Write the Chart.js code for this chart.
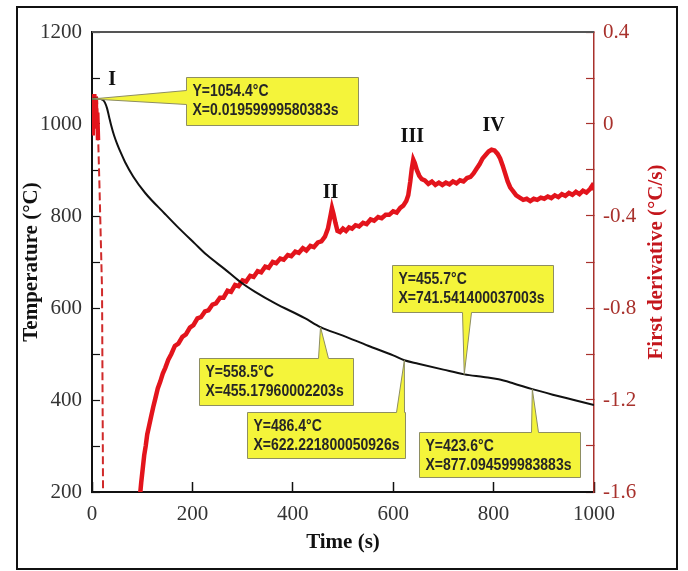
<!DOCTYPE html>
<html>
<head>
<meta charset="utf-8">
<script src="https://cdn.jsdelivr.net/npm/chart.js@4.4.0/dist/chart.umd.min.js"></script>
<style>
  html, body { margin: 0; padding: 0; background: #fff; }
  #wrap { position: relative; width: 688px; height: 571px; }
</style>
</head>
<body>
<div id="wrap"><canvas id="cooling"></canvas></div>
<script>
'use strict'

// cooling curve, temperature (degC) vs time (s)
const tempTime  = [0, 10, 18, 22, 26, 30, 34, 38, 44, 50, 58, 66, 82, 106, 145, 169, 205, 229, 265, 295, 325, 365, 424, 455.1796, 500, 550, 600, 622.2218, 650, 700, 741.5414, 780, 810, 840, 877.0946, 920, 960, 1000]
const tempValue = [1054.4, 1055, 1054, 1052, 1046, 1034, 1016, 998, 975, 957, 936, 917, 886, 850, 805, 778, 740, 715, 684, 657, 635, 610, 578, 558.5, 540, 518, 497, 486.4, 479, 466, 455.7, 450, 445, 436, 423.6, 411, 400, 389]

// first derivative (degC/s) - first seconds, before the drop
const derivEarlyTime  = [0, 1.5, 3, 4.5, 6, 7.5, 9, 10.5, 12]
const derivEarlyValue = [-0.04, 0.09, 0.02, 0.13, 0.06, 0.11, -0.02, 0.05, -0.07]

// the drop that leaves the axis range (dashed)
const derivDropTime  = [10, 15, 20, 22, 22.3]
const derivDropValue = [0.12, -0.28, -0.72, -1.6, -1.8]

// first derivative after it comes back into range
const derivTime = [95, 98, 101, 104, 107, 110, 114, 118, 122, 126, 131, 136, 141, 146, 152, 158, 165, 172, 180, 187, 195, 202, 210, 217, 225, 232, 240, 247, 255, 262, 270, 277, 285, 292, 300, 307, 315, 322, 330, 337, 345, 352, 360, 367, 375, 382, 390, 397, 405, 412, 420, 427, 435, 442, 450, 457, 464, 470, 475, 478, 481, 485, 489, 494, 500, 506, 512, 518, 525, 532, 540, 547, 555, 562, 570, 577, 585, 592, 600, 607, 614, 620, 626, 630, 634, 637, 640, 643, 647, 652, 657, 663, 670, 677, 684, 691, 698, 705, 712, 719, 726, 733, 740, 747, 754, 760, 766, 772, 778, 784, 790, 796, 802, 808, 813, 818, 823, 828, 833, 838, 845, 852, 859, 866, 873, 880, 887, 894, 901, 908, 915, 922, 929, 936, 943, 950, 957, 964, 971, 978, 985, 992, 996, 1000]
const derivValue = [-1.63, -1.56, -1.50, -1.44, -1.40, -1.35, -1.31, -1.27, -1.23, -1.195, -1.15, -1.12, -1.085, -1.06, -1.025, -1.00, -0.965, -0.955, -0.925, -0.915, -0.885, -0.875, -0.845, -0.84, -0.815, -0.81, -0.785, -0.78, -0.755, -0.755, -0.725, -0.73, -0.70, -0.705, -0.68, -0.685, -0.66, -0.665, -0.64, -0.645, -0.62, -0.625, -0.60, -0.605, -0.585, -0.59, -0.57, -0.575, -0.555, -0.56, -0.54, -0.55, -0.53, -0.535, -0.515, -0.51, -0.49, -0.455, -0.40, -0.365, -0.39, -0.43, -0.465, -0.47, -0.455, -0.465, -0.45, -0.455, -0.44, -0.445, -0.43, -0.435, -0.415, -0.42, -0.405, -0.41, -0.395, -0.395, -0.38, -0.385, -0.365, -0.355, -0.335, -0.31, -0.25, -0.195, -0.155, -0.17, -0.20, -0.225, -0.24, -0.245, -0.26, -0.25, -0.265, -0.255, -0.265, -0.255, -0.262, -0.25, -0.258, -0.245, -0.25, -0.235, -0.23, -0.215, -0.195, -0.175, -0.15, -0.135, -0.12, -0.112, -0.115, -0.13, -0.15, -0.18, -0.215, -0.25, -0.275, -0.29, -0.31, -0.32, -0.33, -0.325, -0.335, -0.325, -0.33, -0.32, -0.325, -0.315, -0.322, -0.31, -0.318, -0.305, -0.312, -0.30, -0.308, -0.295, -0.305, -0.29, -0.298, -0.283, -0.27, -0.285]

// transformation peaks on the derivative curve
const peakNames = ['I', 'II', 'III', 'IV']
const peakTime  = [40, 475, 638, 800]
const peakDeriv = [0.19, -0.30, -0.055, -0.01]

// data cursors on the cooling curve
const cursorTime = ['0.01959999580383', '455.17960002203', '622.221800050926', '741.541400037003', '877.094599983883']
const cursorTemp = ['1054.4', '558.5', '486.4', '455.7', '423.6']

// where each cursor box sits relative to its point (px)
const cursorBoxes = [
  {dx: 94,   dy: -22,  w: 172, h: 48, side: 'left',   b0: 13,  b1: 27},
  {dx: -122, dy: 31,   w: 154, h: 47, side: 'top',    b0: 119, b1: 129},
  {dx: -157, dy: 52,   w: 158, h: 46, side: 'top',    b0: 149, b1: 157},
  {dx: -72,  dy: -109, w: 161, h: 47, side: 'bottom', b0: 70,  b1: 79},
  {dx: -113, dy: 43,   w: 161, h: 45, side: 'top',    b0: 112, b1: 119}
]

function toPoints(xs, ys){
  let pts = []
  for(var i=0; i<xs.length; i++){
    pts.push({x: xs[i], y: ys[i]})
  }
  return pts
}

const RED = '#e3141c'
const AXIS_RED = '#a8312c'
const SERIF = '"Liberation Serif", "Times New Roman", serif'

function drawCursor(ctx, ax, ay, box, lines){
  const L = Math.round(ax + box.dx) + 0.5
  const T = Math.round(ay + box.dy) + 0.5
  const R = L + box.w
  const B = T + box.h
  ctx.beginPath()
  if(box.side === 'top'){
    ctx.moveTo(L, T); ctx.lineTo(L + box.b0, T); ctx.lineTo(ax, ay); ctx.lineTo(L + box.b1, T)
    ctx.lineTo(R, T); ctx.lineTo(R, B); ctx.lineTo(L, B)
  } else if(box.side === 'bottom'){
    ctx.moveTo(L, T); ctx.lineTo(R, T); ctx.lineTo(R, B); ctx.lineTo(L + box.b1, B)
    ctx.lineTo(ax, ay); ctx.lineTo(L + box.b0, B); ctx.lineTo(L, B)
  } else {
    ctx.moveTo(L, T); ctx.lineTo(R, T); ctx.lineTo(R, B); ctx.lineTo(L, B)
    ctx.lineTo(L, T + box.b1); ctx.lineTo(ax, ay); ctx.lineTo(L, T + box.b0)
  }
  ctx.closePath()
  ctx.fillStyle = '#f4f43a'
  ctx.fill()
  ctx.strokeStyle = '#8e8e62'
  ctx.lineWidth = 1
  ctx.stroke()

  ctx.fillStyle = '#262626'
  ctx.font = 'bold 14px "Liberation Sans", Arial, sans-serif'
  ctx.textAlign = 'left'
  ctx.textBaseline = 'middle'
  lines.forEach((line, i) => {
    ctx.save()
    ctx.translate(L + 6, T + 14 + i * 19.5)
    ctx.scale(1, 1.15)
    ctx.fillText(line, 0, 0)
    ctx.restore()
  })
}

const decorations = {
  id: 'decorations',
  beforeDraw(chart){
    const ctx = chart.ctx
    ctx.save()
    ctx.fillStyle = '#fff'
    ctx.fillRect(0, 0, chart.width, chart.height)
    ctx.strokeStyle = '#111'
    ctx.lineWidth = 2
    ctx.strokeRect(17, 7, 660, 562)
    ctx.restore()
  },
  afterDraw(chart){
    const ctx = chart.ctx
    const area = chart.chartArea
    const xs = chart.scales.x, ys = chart.scales.y, ds = chart.scales.y2
    ctx.save()

    // top edge of the plot box
    ctx.strokeStyle = '#555'
    ctx.lineWidth = 2
    ctx.beginPath()
    ctx.moveTo(area.left, area.top)
    ctx.lineTo(area.right, area.top)
    ctx.stroke()

    // peak labels
    ctx.fillStyle = '#111'
    ctx.font = 'bold 20px ' + SERIF
    ctx.textAlign = 'center'
    ctx.textBaseline = 'middle'
    peakNames.forEach((name, i) => {
      ctx.fillText(name, xs.getPixelForValue(peakTime[i]), ds.getPixelForValue(peakDeriv[i]))
    })

    // right axis title, reads bottom to top
    ctx.save()
    ctx.translate(657, (area.top + area.bottom) / 2)
    ctx.rotate(-Math.PI / 2)
    ctx.fillStyle = '#c4161c'
    ctx.font = 'bold 21px ' + SERIF
    ctx.fillText('First derivative (°C/s)', 0, 0)
    ctx.restore()

    // data cursors
    cursorTime.forEach((t, i) => {
      const ax = xs.getPixelForValue(parseFloat(t))
      const ay = ys.getPixelForValue(parseFloat(cursorTemp[i]))
      drawCursor(ctx, ax, ay, cursorBoxes[i], ['Y=' + cursorTemp[i] + '°C', 'X=' + t + 's'])
    })
    ctx.restore()
  }
}

const ctx = document.getElementById('cooling')
const chart = new Chart(ctx, {
  type: 'line',
  data: {
    datasets: [
      {
        label: 'Temperature',
        data: toPoints(tempTime, tempValue),
        yAxisID: 'y',
        borderColor: '#111',
        borderWidth: 2,
        pointRadius: 0,
        cubicInterpolationMode: 'monotone'
      },
      {
        label: 'First derivative',
        data: toPoints(derivTime, derivValue),
        yAxisID: 'y2',
        borderColor: RED,
        borderWidth: 4.5,
        pointRadius: 0,
        tension: 0,
        clip: 0
      },
      {
        label: 'First derivative start',
        data: toPoints(derivEarlyTime, derivEarlyValue),
        yAxisID: 'y2',
        borderColor: RED,
        borderWidth: 4.5,
        pointRadius: 0,
        tension: 0,
        clip: 0
      },
      {
        label: 'First derivative drop',
        data: toPoints(derivDropTime, derivDropValue),
        yAxisID: 'y2',
        borderColor: '#d02a2a',
        borderWidth: 2,
        borderDash: [8, 4],
        pointRadius: 0,
        tension: 0,
        clip: 0
      }
    ]
  },
  options: {
    responsive: true,
    maintainAspectRatio: false,
    animation: false,
    layout: { padding: { top: 32, left: 0, right: 0, bottom: 0 } },
    plugins: { legend: { display: false }, tooltip: { enabled: false } },
    scales: {
      x: {
        type: 'linear',
        min: 0,
        max: 1000,
        afterFit(s){ s.height = 79 },
        ticks: {
          stepSize: 200,
          padding: 20,
          color: '#333',
          font: { family: SERIF, size: 21 },
          callback: v => String(v)
        },
        grid: { drawOnChartArea: false, tickLength: -10, tickColor: '#111', tickWidth: 1.5 },
        border: { color: '#111', width: 2 },
        title: {
          display: true,
          text: 'Time (s)',
          color: '#111',
          font: { family: SERIF, size: 21, weight: 'bold' },
          padding: { top: 0, bottom: 16 }
        }
      },
      y: {
        type: 'linear',
        position: 'left',
        min: 200,
        max: 1200,
        afterFit(s){ s.width = 92 },
        ticks: {
          stepSize: 100,
          padding: 18,
          color: '#333',
          font: { family: SERIF, size: 21 },
          callback: v => (v % 200 === 0 ? String(v) : '')
        },
        grid: { drawOnChartArea: false, tickLength: -8, tickColor: '#111', tickWidth: 1.2 },
        border: { color: '#111', width: 2 },
        title: {
          display: true,
          text: 'Temperature (°C)',
          color: '#111',
          font: { family: SERIF, size: 21, weight: 'bold' },
          padding: { top: 19, bottom: 0 }
        }
      },
      y2: {
        type: 'linear',
        position: 'right',
        min: -1.6,
        max: 0.4,
        afterFit(s){ s.width = 94 },
        ticks: {
          stepSize: 0.2,
          padding: 17,
          color: AXIS_RED,
          font: { family: SERIF, size: 21 },
          callback: v => {
            const k = Math.round(v * 10)
            if(k % 4 !== 0) return ''
            return k === 0 ? '0' : (k / 10).toFixed(1)
          }
        },
        grid: { drawOnChartArea: false, tickLength: -8, tickColor: AXIS_RED, tickWidth: 1.2 },
        border: { color: AXIS_RED, width: 1.5 }
      }
    }
  },
  plugins: [decorations]
})
</script>
</body>
</html>
